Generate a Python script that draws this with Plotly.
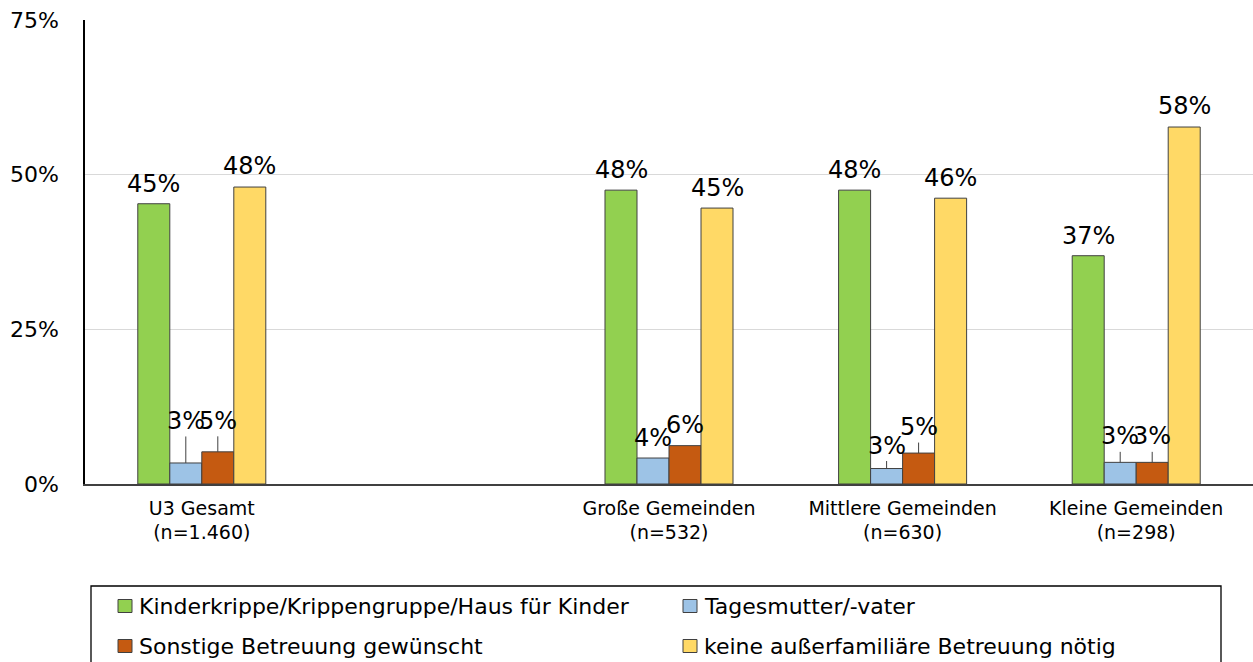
import plotly.graph_objects as go

categories = ["U3 Gesamt<br>(n=1.460)", " ", "Große Gemeinden<br>(n=532)",
              "Mittlere Gemeinden<br>(n=630)", "Kleine Gemeinden<br>(n=298)"]
series_names = ["Kinderkrippe/Krippengruppe/Haus für Kinder", "Tagesmutter/-vater",
                "Sonstige Betreuung gewünscht", "keine außerfamiliäre Betreuung nötig"]
krippe = [45.3, None, 47.5, 47.5, 36.9]
tagesmutter = [3.4, None, 4.2, 2.5, 3.5]
sonstige = [5.2, None, 6.2, 5.0, 3.5]
keine = [48.0, None, 44.6, 46.2, 57.7]
labels = {
    0: ["45%", None, "48%", "48%", "37%"],
    1: ["3%", None, "4%", "3%", "3%"],
    2: ["5%", None, "6%", "5%", "3%"],
    3: ["48%", None, "45%", "46%", "58%"],
}
y_ticks = [0, 25, 50, 75]
y_ticklabels = ["0%", "25%", "50%", "75%"]

# ---- style ----
colors = ["#92D050", "#9DC3E6", "#C55A11", "#FFD966"]
label_offsets = {  # px above bar top (manually placed labels, as in the original)
    0: [20, 0, 20, 20, 20],
    1: [42, 0, 20, 23, 26],
    2: [31, 0, 21, 26, 26],
    3: [21, 0, 20, 20, 21],
}
FONT = "DejaVu Sans"
W, H = 1253, 662
ML, MR, MT, MB = 85, 0, 20, 178
PW, PH = W - ML - MR, H - MT - MB

def px_x(px):
    return (px - ML) / PW

def px_y(py):
    return (H - MB - py) / PH

all_values = [krippe, tagesmutter, sonstige, keine]
n_series = len(all_values)

fig = go.Figure()
for i, (name, vals) in enumerate(zip(series_names, all_values)):
    fig.add_trace(go.Bar(
        x=categories, y=vals, name=name, offsetgroup=str(i), showlegend=False,
        marker=dict(color=colors[i], line=dict(color="#404040", width=1)),
    ))

bargap = 0.452
group_w = 1 - bargap
bar_w = group_w / n_series
annotations = []
for i, vals in enumerate(all_values):
    for j, v in enumerate(vals):
        if v is None:
            continue
        xpos = j - group_w / 2 + bar_w * (i + 0.5)
        off = label_offsets[i][j]
        if off > 22:
            annotations.append(dict(
                x=xpos, y=v, xref="x", yref="y", text=labels[i][j],
                showarrow=True, arrowhead=0, arrowwidth=1, arrowcolor="#404040",
                ax=0, ay=-off, standoff=0,
                font=dict(family=FONT, size=24, color="#000000")))
        else:
            annotations.append(dict(
                x=xpos, y=v, xref="x", yref="y", text=labels[i][j],
                showarrow=False, yanchor="middle", yshift=off,
                font=dict(family=FONT, size=24, color="#000000")))

# ---- legend (drawn as in the original: 2 columns, box cut at bottom) ----
shapes = [dict(type="rect", xref="paper", yref="paper",
               x0=px_x(91), x1=px_x(1221), y0=px_y(690), y1=px_y(586),
               line=dict(color="#000000", width=1.3), fillcolor="rgba(0,0,0,0)",
               layer="above")]
leg_cols = [125, 690]
leg_rows = [606, 646]
for k, name in enumerate(series_names):
    cx = leg_cols[k % 2]
    cy = leg_rows[k // 2]
    shapes.append(dict(type="rect", xref="paper", yref="paper",
                       x0=px_x(cx - 7), x1=px_x(cx + 7),
                       y0=px_y(cy + 6.5), y1=px_y(cy - 6.5),
                       line=dict(color="#404040", width=1), fillcolor=colors[k]))
    annotations.append(dict(xref="paper", yref="paper", x=px_x(cx + 12), y=px_y(cy),
                            xanchor="left", yanchor="middle", showarrow=False,
                            text=name, font=dict(family=FONT, size=22, color="#000000")))

fig.update_layout(
    width=W, height=H,
    margin=dict(l=ML, r=MR, t=MT, b=MB, autoexpand=False),
    paper_bgcolor="white", plot_bgcolor="white",
    barmode="group", bargap=bargap, bargroupgap=0,
    annotations=annotations, shapes=shapes,
    showlegend=False,
    font=dict(family=FONT, color="#000000"),
    xaxis=dict(
        type="category", categoryorder="array", categoryarray=categories,
        showline=True, linecolor="#404040", linewidth=1.5,
        ticks="", showgrid=False, automargin=False, ticklabelstandoff=6,
        tickfont=dict(family=FONT, size=19, color="#000000"),
        range=[-0.5, len(categories) - 0.5],
    ),
    yaxis=dict(
        range=[0, 75], tickvals=y_ticks, ticktext=y_ticklabels,
        showline=True, linecolor="#000000", linewidth=1.5,
        showgrid=True, gridcolor="#D9D9D9", gridwidth=1,
        ticks="", ticklabelstandoff=20, zeroline=False, automargin=False,
        tickfont=dict(family=FONT, size=22, color="#000000"),
    ),
)

fig.write_html("out.html", config={"displayModeBar": False},
               post_script="document.body.style.margin='0';")
